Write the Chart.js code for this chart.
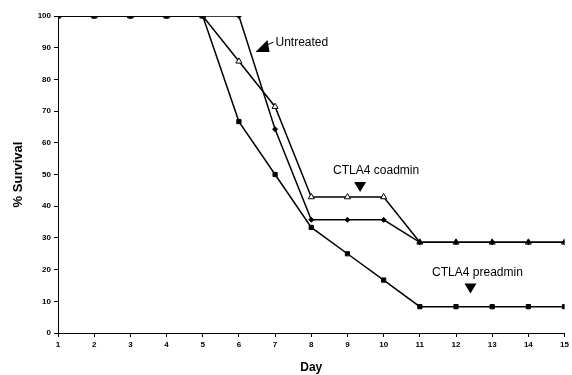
<!DOCTYPE html>
<html>
<head>
<meta charset="utf-8">
<script src="https://cdn.jsdelivr.net/npm/chart.js@4/dist/chart.umd.min.js"></script>
<style>
  html, body { margin: 0; padding: 0; background: #fff; }
  #wrap { width: 572px; height: 375px; position: relative; }
</style>
</head>
<body>
<div id="wrap"><canvas id="c"></canvas></div>
<script>
  const days = [1, 2, 3, 4, 5, 6, 7, 8, 9, 10, 11, 12, 13, 14, 15];
  // diamond markers
  const untreated = [100, 100, 100, 100, 100, 100, 64.3, 35.7, 35.7, 35.7, 28.6, 28.6, 28.6, 28.6, 28.6];
  // triangle markers
  const coadmin = [100, 100, 100, 100, 100, 85.7, 71.4, 42.9, 42.9, 42.9, 28.6, 28.6, 28.6, 28.6, 28.6];
  // square markers
  const preadmin = [100, 100, 100, 100, 100, 66.7, 50, 33.3, 25, 16.7, 8.3, 8.3, 8.3, 8.3, 8.3];
  const yTicks = [0, 10, 20, 30, 40, 50, 60, 70, 80, 90, 100];

  // label text, anchor (day, value), arrow direction, text shift
  const notes = [
    { text: 'Untreated', x: 6.68, y: 90.5, arrow: 'downleft', dx: 0 },
    { text: 'CTLA4 coadmin', x: 9.35, y: 44.5, arrow: 'down', dx: 16 },
    { text: 'CTLA4 preadmin', x: 12.4, y: 12.5, arrow: 'down', dx: 7 }
  ];

  const font = 'Arial, "Liberation Sans", sans-serif';

  const annotate = {
    id: 'annotate',
    afterDatasetsDraw(chart) {
      const { ctx, scales } = chart;
      ctx.save();
      ctx.fillStyle = '#000';
      ctx.strokeStyle = '#000';
      ctx.font = '12px ' + font;
      ctx.textBaseline = 'middle';
      notes.forEach(n => {
        const px = scales.x.getPixelForValue(n.x);
        const py = scales.y.getPixelForValue(n.y);
        ctx.beginPath();
        if (n.arrow === 'down') {
          ctx.moveTo(px - 6, py - 10);
          ctx.lineTo(px + 6, py - 10);
          ctx.lineTo(px, py);
          ctx.closePath();
          ctx.fill();
          ctx.textAlign = 'center';
          ctx.fillText(n.text, px + n.dx, py - 21);
        } else {
          ctx.moveTo(px - 8, py + 6);
          ctx.lineTo(px + 6, py + 6);
          ctx.lineTo(px + 4, py - 6);
          ctx.closePath();
          ctx.fill();
          ctx.lineWidth = 1;
          ctx.beginPath();
          ctx.moveTo(px + 3, py - 1);
          ctx.lineTo(px + 10, py - 4);
          ctx.stroke();
          ctx.textAlign = 'left';
          ctx.fillText(n.text, px + 12 + n.dx, py - 3);
        }
      });
      ctx.restore();
    }
  };

  const line = (label, data, style, bg, r) => ({
    label,
    data,
    borderColor: '#000',
    borderWidth: 1.5,
    pointStyle: style,
    pointRadius: r,
    pointBackgroundColor: bg,
    pointBorderColor: '#000',
    pointBorderWidth: 1,
    tension: 0
  });

  new Chart(document.getElementById('c'), {
    type: 'line',
    data: {
      labels: days,
      datasets: [
        line('Untreated', untreated, 'rectRot', '#000', 2.5),
        line('CTLA4 coadmin', coadmin, 'triangle', '#fff', 3.5),
        line('CTLA4 preadmin', preadmin, 'rect', '#000', 3)
      ]
    },
    options: {
      responsive: true,
      maintainAspectRatio: false,
      animation: false,
      layout: { padding: { top: 16, right: 7, left: 0, bottom: 0 } },
      plugins: { legend: { display: false }, tooltip: { enabled: false } },
      scales: {
        x: {
          type: 'linear',
          min: 1,
          max: 15,
          afterFit: s => { s.height = 42; },
          afterBuildTicks: s => { s.ticks = days.map(v => ({ value: v })); },
          grid: { drawOnChartArea: false, tickLength: 4, color: '#000' },
          border: { color: '#000', width: 1 },
          ticks: { color: '#000', font: { family: font, size: 8, weight: 'bold' }, padding: 3, maxRotation: 0 },
          title: { display: true, text: 'Day', color: '#000', font: { family: font, size: 12, weight: 'bold' }, padding: { top: 6, bottom: 0 } }
        },
        y: {
          min: 0,
          max: 100,
          afterFit: s => { s.width = 58; },
          afterBuildTicks: s => { s.ticks = yTicks.map(v => ({ value: v })); },
          grid: { drawOnChartArea: false, tickLength: 4, color: '#000' },
          border: { color: '#000', width: 1 },
          ticks: { color: '#000', font: { family: font, size: 8, weight: 'bold' }, padding: 3 },
          title: { display: true, text: '% Survival', color: '#000', font: { family: font, size: 13, weight: 'bold' }, padding: { top: 11, bottom: 0 } }
        }
      }
    },
    plugins: [annotate]
  });
</script>
</body>
</html>
